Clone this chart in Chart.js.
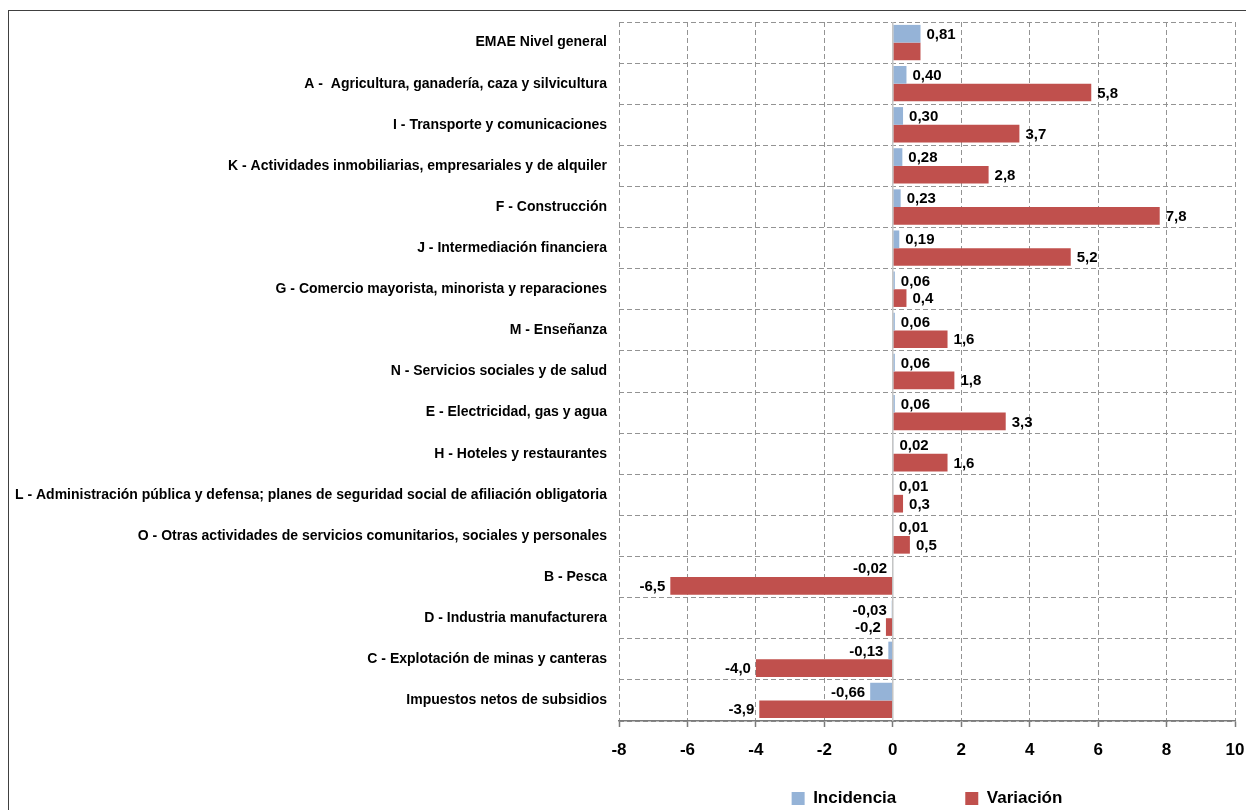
<!DOCTYPE html>
<html>
<head>
<meta charset="utf-8">
<script src="https://cdn.jsdelivr.net/npm/chart.js@4/dist/chart.umd.min.js"></script>
<style>
	html, body { margin: 0; padding: 0; background: #fff; overflow: hidden; }
	#wrap { position: relative; width: 1246px; height: 810px; overflow: hidden; }
	#c { position: absolute; left: 0; top: 0; }
	#frame {
		position: absolute; left: 8px; top: 10px; width: 1400px; height: 1000px;
		border-left: 1.5px solid #404040; border-top: 1.5px solid #404040;
		pointer-events: none;
	}
</style>
</head>
<body>
<div id="wrap">
	<canvas id="c" width="1246" height="817"></canvas>
	<div id="frame"></div>
</div>
<script>
const categories = [
	'EMAE Nivel general',
	'A -  Agricultura, ganadería, caza y silvicultura',
	'I - Transporte y comunicaciones',
	'K - Actividades inmobiliarias, empresariales y de alquiler',
	'F - Construcción',
	'J - Intermediación financiera',
	'G - Comercio mayorista, minorista y reparaciones',
	'M - Enseñanza',
	'N - Servicios sociales y de salud',
	'E - Electricidad, gas y agua',
	'H - Hoteles y restaurantes',
	'L - Administración pública y defensa; planes de seguridad social de afiliación obligatoria',
	'O - Otras actividades de servicios comunitarios, sociales y personales',
	'B - Pesca',
	'D - Industria manufacturera',
	'C - Explotación de minas y canteras',
	'Impuestos netos de subsidios',
];

const incidencia = [0.81, 0.40, 0.30, 0.28, 0.23, 0.19, 0.06, 0.06, 0.06, 0.06, 0.02, 0.01, 0.01, -0.02, -0.03, -0.13, -0.66];
const variacion = [0.81, 5.8, 3.7, 2.8, 7.8, 5.2, 0.4, 1.6, 1.8, 3.3, 1.6, 0.3, 0.5, -6.5, -0.2, -4.0, -3.9];

// decimals shown per series, and which variación labels are not shown
const decimals = [2, 1];
const hiddenVarLabels = [0];

const xTicks = [-8, -6, -4, -2, 0, 2, 4, 6, 8, 10];

const FONT = '"Liberation Sans", Arial, sans-serif';

const valueLabels = {
	id: 'valueLabels',
	afterDatasetsDraw(chart) {
		const ctx = chart.ctx;
		ctx.save();
		ctx.font = 'bold 15px ' + FONT;
		ctx.fillStyle = '#000';
		ctx.textBaseline = 'middle';
		chart.data.datasets.forEach((ds, di) => {
			const meta = chart.getDatasetMeta(di);
			meta.data.forEach((bar, i) => {
				if (di === 1 && hiddenVarLabels.includes(i)) return;
				const v = ds.data[i];
				const txt = v.toFixed(decimals[di]).replace('.', ',');
				if (v >= 0) {
					ctx.textAlign = 'left';
					ctx.fillText(txt, bar.x + 6, bar.y + 1);
				} else {
					ctx.textAlign = 'right';
					ctx.fillText(txt, bar.x - 5, bar.y + 1);
				}
			});
		});
		ctx.restore();
	}
};

const zeroLine = {
	id: 'zeroLine',
	afterDatasetsDraw(chart) {
		const { ctx, chartArea, scales } = chart;
		const x = scales.x.getPixelForValue(0);
		ctx.save();
		ctx.strokeStyle = '#c4c4c4';
		ctx.lineWidth = 1.5;
		ctx.beginPath();
		ctx.moveTo(x, chartArea.top);
		ctx.lineTo(x, chartArea.bottom);
		ctx.stroke();
		ctx.restore();
	}
};

const data = {
	labels: categories,
	datasets: [
		{
			label: 'Incidencia',
			data: incidencia,
			backgroundColor: '#95B3D7',
			categoryPercentage: 0.86,
			barPercentage: 1,
		},
		{
			label: 'Variación',
			data: variacion,
			backgroundColor: '#C0504D',
			categoryPercentage: 0.86,
			barPercentage: 1,
		},
	],
};

const config = {
	type: 'bar',
	data: data,
	plugins: [zeroLine, valueLabels],
	options: {
		indexAxis: 'y',
		responsive: false,
		animation: false,
		layout: { padding: { top: 22, right: 11, left: 0, bottom: 0 } },
		scales: {
			x: {
				min: -8,
				max: 10,
				afterBuildTicks(scale) {
					scale.ticks = xTicks.map(v => ({ value: v }));
				},
				// the legend sits right under the axis; tick labels hang below it
				afterFit(scale) {
					scale.height = 0;
					scale.paddingLeft = 0;
					scale.paddingRight = 0;
				},
				grid: {
					color: (c) => (c.tick && c.tick.value === 0 ? 'rgba(0,0,0,0)' : '#939393'),
					lineWidth: 1,
					tickColor: '#7a7a7a',
					tickLength: 6,
					tickWidth: 1.5,
				},
				border: { display: true, color: '#7a7a7a', width: 1.5, dash: [5, 3] },
				ticks: {
					color: '#000',
					mirror: true,
					padding: -40,
					font: { family: FONT, size: 17, weight: 'bold' },
					callback: (v) => String(v),
				},
			},
			y: {
				afterFit(scale) {
					scale.width = 619;
				},
				grid: {
					color: '#939393',
					lineWidth: 1,
					drawTicks: false,
				},
				border: { display: false, dash: [5, 3] },
				ticks: {
					color: '#000',
					padding: 12,
					font: { family: FONT, size: 14, weight: 'bold' },
				},
			},
		},
		plugins: {
			legend: {
				position: 'bottom',
				fullSize: false,
				labels: {
					boxWidth: 13,
					boxHeight: 13,
					padding: 69,
					color: '#000',
					font: { family: FONT, size: 17, weight: 'bold' },
				},
			},
			tooltip: { enabled: false },
		},
	},
};

new Chart(document.getElementById('c'), config);
</script>
</body>
</html>
